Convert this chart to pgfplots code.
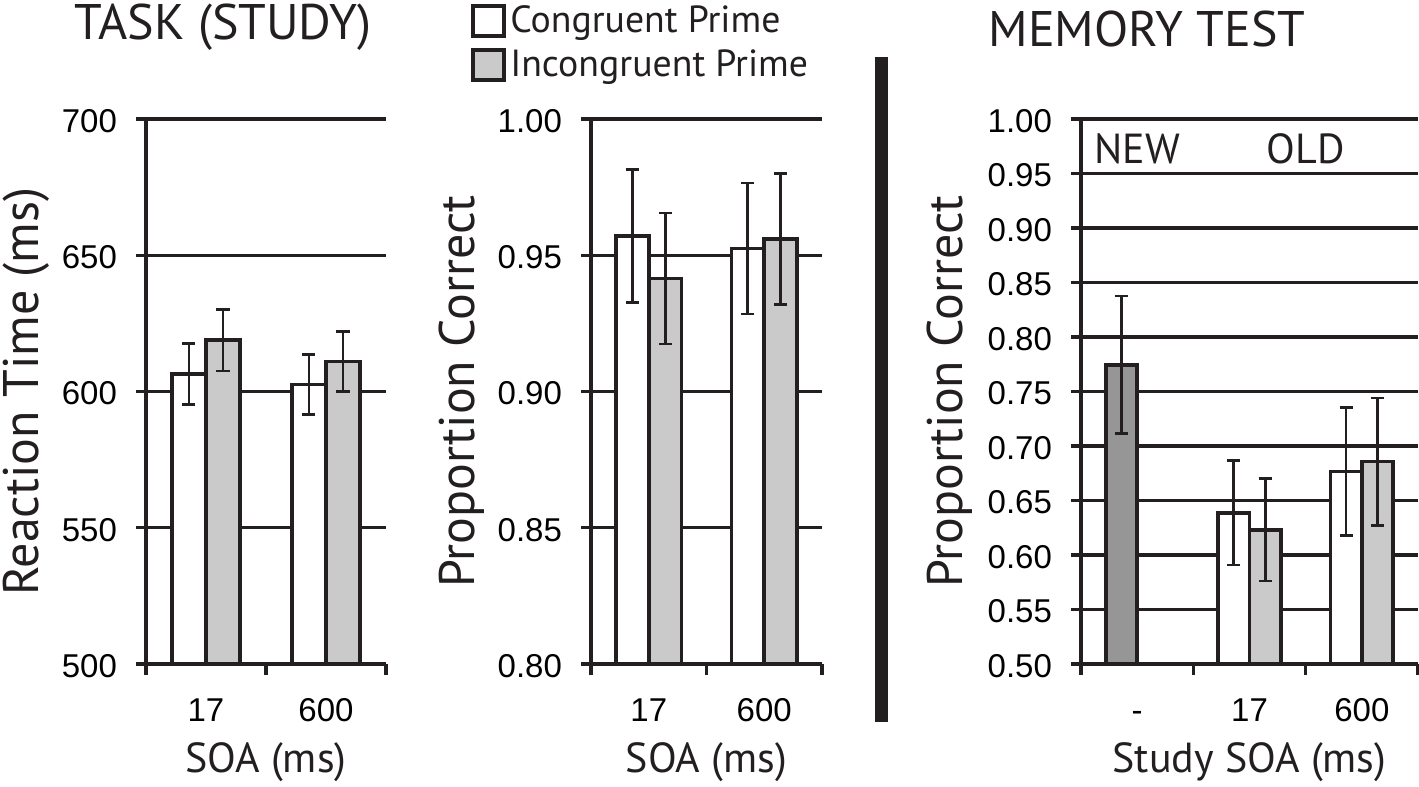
\documentclass[border=0pt]{standalone}
\usepackage{fontspec}
\usepackage{pgfplots}
\pgfplotsset{compat=1.18}
\newfontfamily\labfont{PT Sans}
\newfontfamily\tickfont{Liberation Sans}
\definecolor{ink}{RGB}{35,31,32}
\definecolor{incong}{RGB}{202,202,202}
\definecolor{newc}{RGB}{150,150,150}
\pgfplotsset{
  panel/.style={
    scale only axis, anchor=south west,
    axis x line*=bottom, axis y line*=left,
    axis line style={ink, line width=1.7pt},
    ymajorgrids, grid style={ink, line width=1.7pt},
    tick align=outside,
    major tick length=5pt,
    minor tick length=5.5pt,
    tick style={ink, line width=1.7pt},
    major x tick style={draw=none},
    /pgf/number format/assume math mode=true,
    tick label style={font=\tickfont\fontsize{16.5}{18}\selectfont, text=black},
    yticklabel style={xshift=-6pt, yshift=-1pt},
    xticklabel style={yshift=-7.5pt},
    xlabel style={font=\labfont\fontsize{21}{24}\selectfont, text=ink},
    ylabel style={font=\labfont\fontsize{25}{28}\selectfont, text=ink},
    title style={font=\labfont\fontsize{25}{28}\selectfont, text=ink},
    clip=true,
  },
  bars/.style={ybar, bar width=#1, bar shift=0pt, draw=ink, line width=1.8pt,
    /pgfplots/error bars/y dir=both, /pgfplots/error bars/y explicit,
    /pgfplots/error bars/error bar style={ink, line width=1.3pt},
    /pgfplots/error bars/error mark options={rotate=90, mark size=3.3pt, line width=1.3pt, ink}},
}
\begin{document}
\begin{tikzpicture}
\useasboundingbox (0,0) rectangle (709.5pt,393.5pt);
% ---------- left panel
\begin{axis}[panel, at={(73pt,61.5pt)}, width=120pt, height=272.5pt,
  xmin=0.5, xmax=2.5, ymin=500, ymax=700, ytick={500,550,600,650,700},
  xtick={1,2}, xticklabels={\strut 17,\strut 600}, minor xtick={0.5,1.5,2.5},
  ylabel={Reaction Time (ms)}, xlabel={SOA (ms)},
  ylabel style={at={(axis description cs:-0.5,0.5)}, anchor=center},
  xlabel style={at={(axis description cs:0.5,-0.18)}, anchor=center},
  title={TASK (STUDY)}, title style={at={(axis description cs:0.32,1.147)}, anchor=center}]
\addplot[bars=0.285, fill=white] coordinates {(0.8575,606.4) +- (0,11.2) (1.8575,602.5) +- (0,11.0)};
\addplot[bars=0.285, fill=incong] coordinates {(1.1425,618.8) +- (0,11.3) (2.1425,611.0) +- (0,11.0)};
\end{axis}
% ---------- middle panel
\begin{axis}[panel, at={(295.5pt,61.5pt)}, width=115.5pt, height=272.5pt,
  xmin=0.5, xmax=2.5, ymin=0.8, ymax=1.0, ytick={0.8,0.85,0.9,0.95,1.0},
  yticklabel style={/pgf/number format/.cd, fixed, fixed zerofill, precision=2},
  xtick={1,2}, xticklabels={\strut 17,\strut 600}, minor xtick={0.5,1.5,2.5},
  ylabel={Proportion Correct}, xlabel={SOA (ms)},
  ylabel style={at={(axis description cs:-0.558,0.5)}, anchor=center},
  xlabel style={at={(axis description cs:0.5,-0.18)}, anchor=center},
  legend style={at={(axis description cs:-0.52,1.2155)}, anchor=north west, draw=none, fill=none,
    font=\labfont\fontsize{18.9}{21}\selectfont, text=ink, inner sep=0pt, row sep=3pt},
  legend cell align=left]
\addlegendimage{legend image code/.code={\draw[fill=white, draw=ink, line width=2pt] (-2.5pt,-7.5pt) rectangle (13pt,7.5pt);}}
\addlegendentry{Congruent Prime}
\addlegendimage{legend image code/.code={\draw[fill=incong, draw=ink, line width=2pt] (-2.5pt,-7.5pt) rectangle (13pt,7.5pt);}}
\addlegendentry{Incongruent Prime}
\addplot[bars=0.285, fill=white] coordinates {(0.8575,0.957) +- (0,0.0244) (1.8575,0.9525) +- (0,0.024)};
\addplot[bars=0.285, fill=incong] coordinates {(1.1425,0.9415) +- (0,0.024) (2.1425,0.956) +- (0,0.024)};
\end{axis}
% ---------- separator
\fill[ink] (437.5pt,32.5pt) rectangle (444pt,365pt);
% ---------- right panel
\begin{axis}[panel, at={(540.5pt,61.5pt)}, width=168.5pt, height=272.5pt,
  xmin=0.5, xmax=3.5, ymin=0.5, ymax=1.0, ytick={0.5,0.55,...,1.01},
  yticklabel style={/pgf/number format/.cd, fixed, fixed zerofill, precision=2},
  xtick={1,2,3}, xticklabels={\strut -,\strut 17,\strut 600}, minor xtick={0.5,1.5,2.5,3.5},
  ylabel={Proportion Correct}, xlabel={Study SOA (ms)},
  ylabel style={at={(axis description cs:-0.389,0.5)}, anchor=center},
  xlabel style={at={(axis description cs:0.5,-0.18)}, anchor=center},
  title={MEMORY TEST}, title style={at={(axis description cs:0.196,1.143)}, anchor=center}]
\addplot[bars=0.28, fill=newc] coordinates {(0.86,0.7745) +- (0,0.063)};
\addplot[bars=0.28, fill=white] coordinates {(1.86,0.6388) +- (0,0.048) (2.86,0.6766) +- (0,0.0587)};
\addplot[bars=0.28, fill=incong] coordinates {(2.14,0.623) +- (0,0.047) (3.14,0.6857) +- (0,0.0585)};
\node[font=\labfont\fontsize{21}{24}\selectfont, text=ink] at (axis cs:1,0.973) {NEW};
\node[font=\labfont\fontsize{21}{24}\selectfont, text=ink] at (axis cs:2.5,0.973) {OLD};
\end{axis}
\end{tikzpicture}
\end{document}
